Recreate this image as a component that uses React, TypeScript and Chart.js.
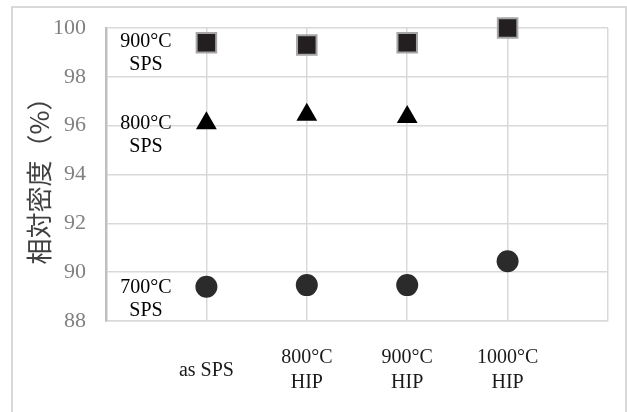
import React, { useEffect, useRef } from "react";
import { Chart, registerables } from "chart.js";

Chart.register(...registerables);

// Categories (x axis), padded with empty slots at both ends
const categories: (string | string[])[] = ["as SPS", ["800°C", "HIP"], ["900°C", "HIP"], ["1000°C", "HIP"]];
const axisLabels = ["", ...categories, ""];

// Relative density (%) per SPS temperature
const sps900Values: (number | null)[] = [99.4, 99.3, 99.4, 100.0];
const sps800Values: (number | null)[] = [96.1, 96.45, 96.35, null];
const sps700Values: (number | null)[] = [89.4, 89.47, 89.47, 90.45];

const yMin = 88;
const yMax = 100;
const yStep = 2;

const yTitle = "相対密度（%）";

// Series annotations drawn inside the plot
const noteLines: string[][] = [["900°C", "SPS"], ["800°C", "SPS"], ["700°C", "SPS"]];
const noteValues: number[] = [98.98, 95.62, 88.88];

const pad = (arr: (number | null)[]) => [null, ...arr, null];

const framePlugin = {
  id: "frame",
  beforeDraw(chart: any) {
    const ctx = chart.ctx;
    ctx.save();
    ctx.strokeStyle = "#d9d9d9";
    ctx.lineWidth = 2;
    ctx.strokeRect(12, 7, 614, 430);
    ctx.restore();
  },
};

const notesPlugin = {
  id: "notes",
  afterDatasetsDraw(chart: any) {
    const { ctx, scales } = chart;
    const x = scales.x;
    const y = scales.y;
    ctx.save();
    ctx.font = '20px "Liberation Serif"';
    ctx.fillStyle = "#000000";
    ctx.textAlign = "center";
    ctx.textBaseline = "middle";
    noteLines.forEach((lines, i) => {
      const cx = x.getPixelForValue(0) + 40;
      const cy = y.getPixelForValue(noteValues[i]);
      lines.forEach((t, j) => {
        ctx.fillText(t, cx, cy + (j - (lines.length - 1) / 2) * 23);
      });
    });
    ctx.restore();
  },
};

export default function App() {
  const ref = useRef<HTMLCanvasElement | null>(null);

  useEffect(() => {
    if (!ref.current) return;
    const chart = new Chart(ref.current, {
      type: "line",
      data: {
        labels: axisLabels as any,
        datasets: [
          {
            label: "900°C SPS",
            data: pad(sps900Values),
            showLine: false,
            clip: false as any,
            pointStyle: "rect",
            pointRadius: 13.8,
            pointBackgroundColor: "#231f20",
            pointBorderColor: "#a6a6a6",
            pointBorderWidth: 2,
          },
          {
            label: "800°C SPS",
            data: pad(sps800Values),
            showLine: false,
            clip: false as any,
            pointStyle: "triangle",
            pointRadius: 12,
            pointBackgroundColor: "#000000",
            pointBorderColor: "#000000",
            pointBorderWidth: 0,
          },
          {
            label: "700°C SPS",
            data: pad(sps700Values),
            showLine: false,
            clip: false as any,
            pointStyle: "circle",
            pointRadius: 11,
            pointBackgroundColor: "#2b2b2b",
            pointBorderColor: "#2b2b2b",
            pointBorderWidth: 0,
          },
        ],
      },
      options: {
        responsive: false,
        maintainAspectRatio: false,
        animation: false,
        layout: { padding: { left: 0, top: 28, right: 19, bottom: 0 } },
        plugins: {
          legend: { display: false },
          tooltip: { enabled: false },
        },
        scales: {
          x: {
            type: "category",
            offset: false,
            grid: { color: "#d9d9d9", lineWidth: 1.5, drawTicks: false },
            border: { color: "#d9d9d9", width: 1.5 },
            ticks: {
              autoSkip: false,
              maxRotation: 0,
              padding: 37,
              crossAlign: "center",
              color: "#1a1a1a",
              font: { family: '"Liberation Serif"', size: 20, lineHeight: 1.25 },
            },
            afterFit(scale: any) {
              scale.height = 412 - 321;
              scale.paddingLeft = 0;
              scale.paddingRight = 0;
            },
          },
          y: {
            min: yMin,
            max: yMax,
            grid: { color: "#d9d9d9", lineWidth: 1.5, drawTicks: false },
            border: { color: "#bfbfbf", width: 2.5 },
            ticks: {
              stepSize: yStep,
              padding: 20,
              color: "#808080",
              font: { family: '"Liberation Serif"', size: 22 },
            },
            title: {
              display: true,
              text: yTitle,
              color: "#404040",
              font: { family: '"Noto Sans CJK JP"', size: 26, lineHeight: 1.2 },
              padding: { top: 24, bottom: 0 },
            },
            afterFit(scale: any) {
              scale.width = 106;
              scale.paddingTop = 0;
              scale.paddingBottom = 0;
            },
          },
        },
      },
      plugins: [framePlugin, notesPlugin],
    });
    return () => chart.destroy();
  }, []);

  return (
    <div style={{ position: "absolute", left: 0, top: 0, width: 627, height: 412, background: "#ffffff" }}>
      <canvas ref={ref} width={627} height={412} style={{ display: "block" }} />
    </div>
  );
}
